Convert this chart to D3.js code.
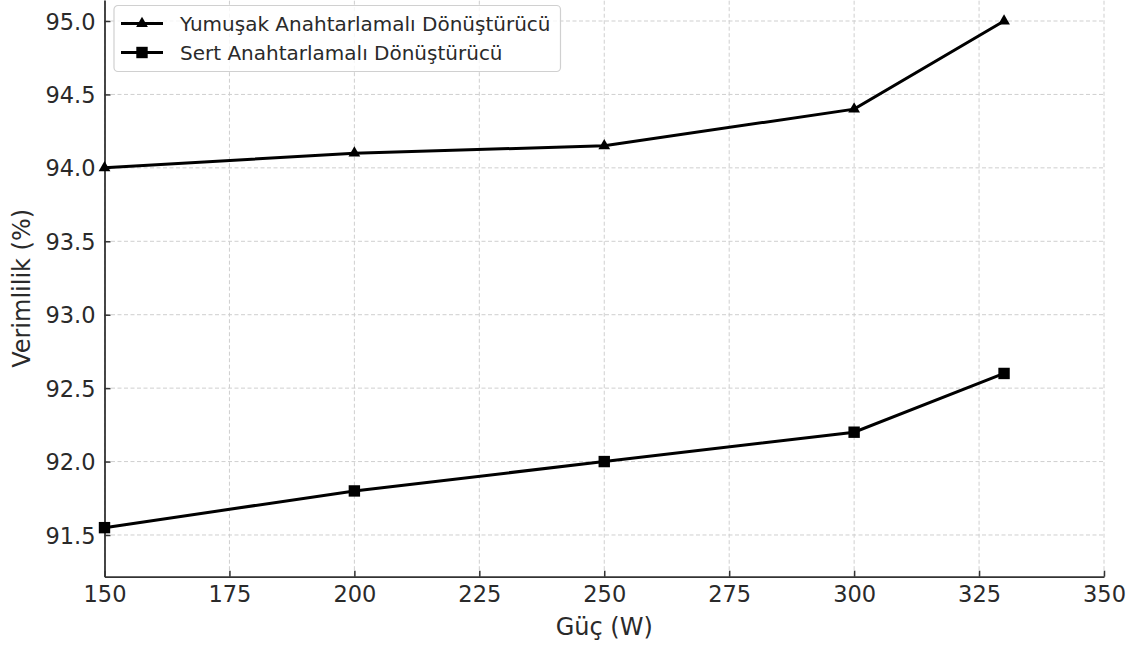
<!DOCTYPE html>
<html>
<head>
<meta charset="utf-8">
<script src="https://cdn.jsdelivr.net/npm/d3@7"></script>
<style>
  body { margin: 0; background: #fff; }
  svg { display: block; font-family: "DejaVu Sans", sans-serif; }
  .grid line { stroke: #cfcfcf; stroke-width: 1; stroke-dasharray: 4,2.5; }
</style>
</head>
<body>
<svg id="chart"></svg>
<script>
// data
var power = [150, 200, 250, 300, 330];
var softSwitching = [94.0, 94.1, 94.15, 94.4, 95.0];
var hardSwitching = [91.55, 91.8, 92.0, 92.2, 92.6];
var xTicks = [150, 175, 200, 225, 250, 275, 300, 325, 350];
var yTicks = [91.5, 92.0, 92.5, 93.0, 93.5, 94.0, 94.5, 95.0];
var seriesNames = ["Yumuşak Anahtarlamalı Dönüştürücü", "Sert Anahtarlamalı Dönüştürücü"];

var width = 1133,
	height = 646;
var svg = d3.select("#chart")
	.attr("width", width)
	.attr("height", height);

var plotLeft = 104.5, plotRight = 1104, plotBottom = 576.7, plotTop = 0;

var x = d3.scaleLinear().domain([150, 350]).range([plotLeft, plotRight]);
var y = d3.scaleLinear().domain([91.216, 95.143]).range([plotBottom, plotTop]);

// grid
var grid = svg.append("g").attr("class", "grid");
grid.selectAll(".gx")
	.data(xTicks)
	.enter().append("line")
	.attr("x1", function (d) { return x(d); })
	.attr("x2", function (d) { return x(d); })
	.attr("y1", plotBottom)
	.attr("y2", plotTop);
grid.selectAll(".gy")
	.data(yTicks)
	.enter().append("line")
	.attr("x1", plotLeft)
	.attr("x2", plotRight)
	.attr("y1", function (d) { return y(d); })
	.attr("y2", function (d) { return y(d); });

// axes, ticks pointing inward
var xAxis = svg.append("g")
	.attr("transform", "translate(0," + plotBottom + ")")
	.call(d3.axisBottom(x).tickValues(xTicks).tickSizeInner(-6).tickSizeOuter(0).tickPadding(9)
		.tickFormat(d3.format("d")));
var yAxis = svg.append("g")
	.attr("transform", "translate(" + plotLeft + ",0)")
	.call(d3.axisLeft(y).tickValues(yTicks).tickSizeInner(-6).tickSizeOuter(0).tickPadding(9)
		.tickFormat(d3.format(".1f")));

[xAxis, yAxis].forEach(function (a) {
	a.select(".domain").attr("stroke", "#333").attr("stroke-width", 1.8);
	a.selectAll(".tick line").attr("stroke", "#333").attr("stroke-width", 1.5);
	a.selectAll(".tick text")
		.attr("fill", "#2a2a2a")
		.style("font-family", "DejaVu Sans")
		.style("font-size", "22.5px");
});
xAxis.selectAll(".tick text").attr("dy", "0.71em");
yAxis.selectAll(".tick text").attr("dy", "0.36em");

// axis labels
svg.append("text")
	.attr("x", (plotLeft + plotRight) / 2)
	.attr("y", 635)
	.attr("text-anchor", "middle")
	.attr("fill", "#2a2a2a")
	.style("font-size", "24px")
	.text("Güç (W)");
svg.append("text")
	.attr("transform", "translate(29.5," + (plotBottom + plotTop) / 2 + ") rotate(-90)")
	.attr("text-anchor", "middle")
	.attr("fill", "#2a2a2a")
	.style("font-size", "24px")
	.text("Verimlilik (%)");

// lines
var line = d3.line()
	.x(function (d) { return x(d[0]); })
	.y(function (d) { return y(d[1]); });

var soft = power.map(function (p, i) { return [p, softSwitching[i]]; });
var hard = power.map(function (p, i) { return [p, hardSwitching[i]]; });

var plot = svg.append("g");
plot.append("path")
	.datum(soft)
	.attr("d", line)
	.attr("fill", "none")
	.attr("stroke", "#000")
	.attr("stroke-width", 3);
plot.append("path")
	.datum(hard)
	.attr("d", line)
	.attr("fill", "none")
	.attr("stroke", "#000")
	.attr("stroke-width", 3);

var tri = d3.symbol().type(d3.symbolTriangle).size(60);
var sq = d3.symbol().type(d3.symbolSquare).size(130);

plot.selectAll(".tri")
	.data(soft)
	.enter().append("path")
	.attr("d", tri)
	.attr("fill", "#000")
	.attr("transform", function (d) { return "translate(" + x(d[0]) + "," + y(d[1]) + ")"; });
plot.selectAll(".sq")
	.data(hard)
	.enter().append("path")
	.attr("d", sq)
	.attr("fill", "#000")
	.attr("transform", function (d) { return "translate(" + x(d[0]) + "," + y(d[1]) + ")"; });

// legend
var legend = svg.append("g");
legend.append("rect")
	.attr("x", 114)
	.attr("y", 5.5)
	.attr("width", 446.5)
	.attr("height", 66)
	.attr("rx", 4)
	.attr("fill", "#fff")
	.attr("fill-opacity", 0.8)
	.attr("stroke", "#d0d0d0")
	.attr("stroke-width", 1.2);

var entries = legend.selectAll(".entry")
	.data(seriesNames)
	.enter().append("g")
	.attr("transform", function (d, i) { return "translate(0," + (23.5 + i * 29) + ")"; });
entries.append("line")
	.attr("x1", 121)
	.attr("x2", 163)
	.attr("stroke", "#000")
	.attr("stroke-width", 3);
entries.append("path")
	.attr("d", function (d, i) { return i == 0 ? tri() : sq(); })
	.attr("transform", "translate(142,0)")
	.attr("fill", "#000");
entries.append("text")
	.attr("x", 180)
	.attr("dy", "0.36em")
	.attr("fill", "#2a2a2a")
	.style("font-size", "20px")
	.text(function (d) { return d; });
</script>
</body>
</html>
